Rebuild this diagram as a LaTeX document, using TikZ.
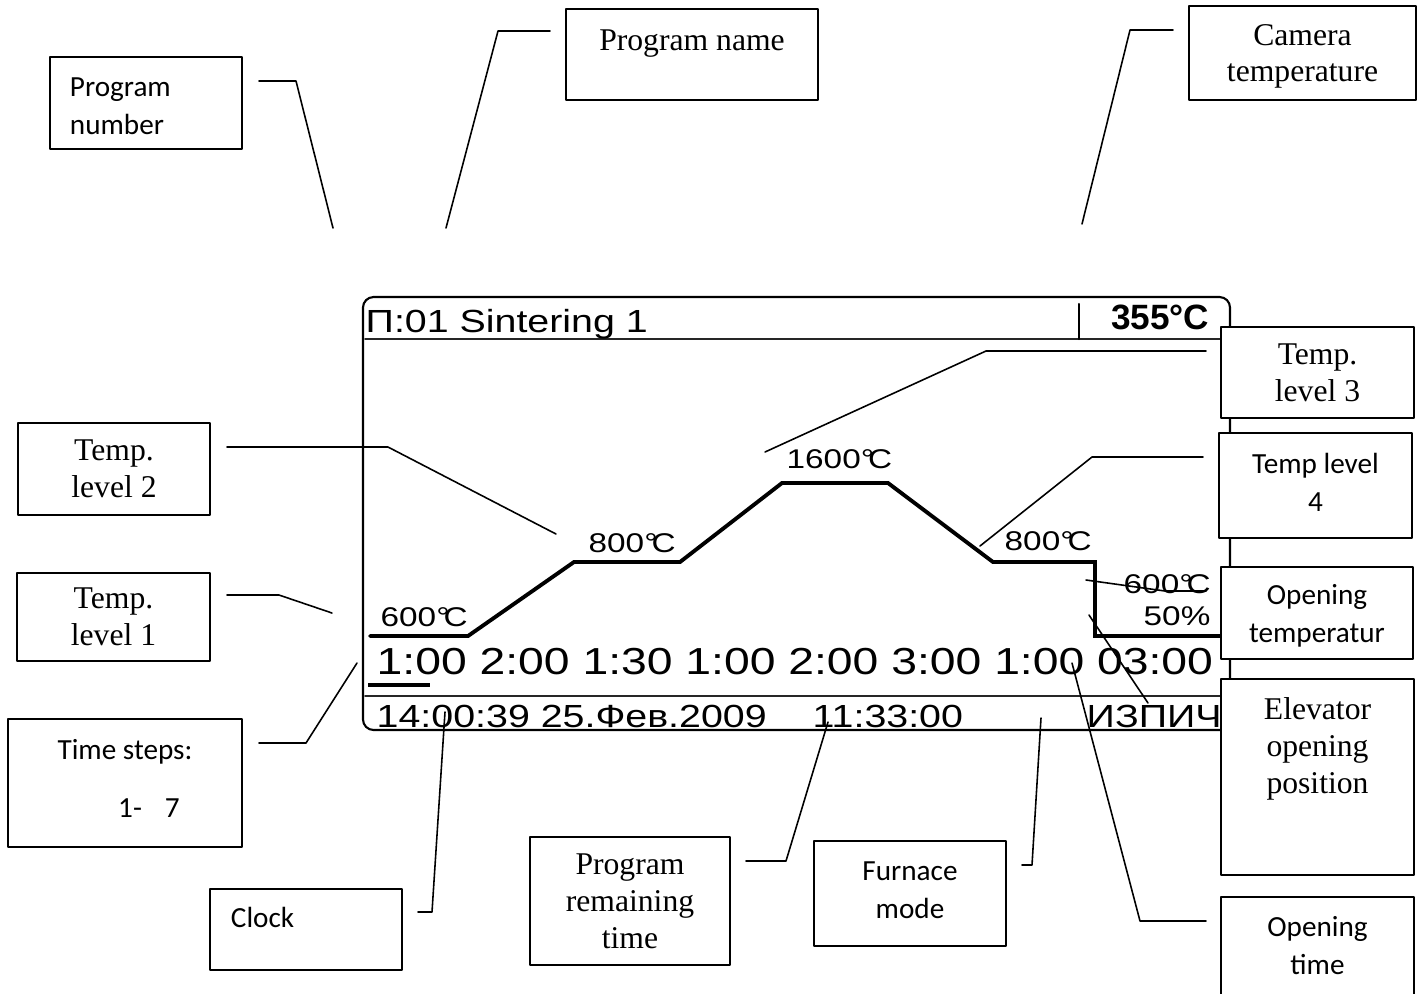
\documentclass[tikz,border=0pt]{standalone}
\usepackage{fontspec}
\setmainfont{Liberation Serif}
\newfontfamily\calib{Carlito}
\newfontfamily\lcd[FakeStretch=1.23]{Liberation Sans}
\newfontfamily\lcdb{Liberation Sans}
\newcommand\boxtop[4]{\parbox[c][#2][t]{#1}{\vspace*{#3}\centering #4}}
\begin{document}
\begin{tikzpicture}[x=0.01cm, y=-0.01cm, line join=round, line cap=round,
	tbox/.style={draw, fill=white, line width=0.6pt, inner sep=0pt, align=center, font=\fontsize{9}{10.5}\selectfont},
	cbox/.style={tbox, font=\calib\fontsize{8.3}{10.8}\selectfont},
	sink/.style={text depth=0pt},
	lift/.style={text depth=#1},
	lead/.style={line width=0.45pt},
	lcdtxt/.style={inner sep=0pt, anchor=base west, font=\lcd\fontsize{#1}{#1}\selectfont}]
	\useasboundingbox (0,0) rectangle (1418,993);
	% display
	\draw[line width=0.6pt, rounded corners=3pt] (363,297) rectangle (1230,730);
	\draw[line width=0.45pt, black!85] (365,339) -- (1228,339) (365,696) -- (1228,696);
	\draw[line width=0.6pt] (1079,304) -- (1079,339);
	\draw[line width=1.2pt, line cap=butt] (368,685) -- (430,685);
	\draw[line width=1.1pt, line join=miter] (370,636) -- (468,636) -- (574,562) -- (680,562) -- (782,483)
		-- (888,483) -- (993,562) -- (1095,562) -- (1095,636) -- (1222,636);
	\node[lcdtxt=9.1] (title) at (365,332) {П:01 Sintering 1};
	\node[anchor=base east, inner sep=0pt, font=\lcdb\bfseries\fontsize{10}{10}\selectfont] (camval) at (1210,329) {355°C};
	\node[lcdtxt=7.7] (tone) at (380,626) {600°\kern-.22em C};
	\node[lcdtxt=7.7] (ttwo) at (588,552) {800°\kern-.22em C};
	\node[lcdtxt=7.7] (tthree) at (786,468) {1600°\kern-.22em C};
	\node[lcdtxt=7.7] (tfour) at (1004,550) {800°\kern-.22em C};
	\node[lcdtxt=7.7] (topen) at (1123,593) {600°\kern-.22em C};
	\node[lcdtxt=7.7] (elevpos) at (1143,625) {50\%};
	\node[lcdtxt=10.7] (times) at (376,674) {1:00 2:00 1:30 1:00 2:00 3:00 1:00 03:00};
	\node[lcdtxt=9.1] (clk) at (376,727) {14:00:39 25.Фев.2009};
	\node[lcdtxt=9.1] (remain) at (812,727) {11:33:00};
	\node[lcdtxt=9.1] (mode) at (1086,727) {ИЗПИЧ.};
	% callout boxes
	\node[cbox, minimum width=1.92cm, minimum height=0.92cm] (pnum) at (146,103) {\boxtop{1.52cm}{0.9cm}{0.2cm}{\raggedright Program\\number}};
	\node[tbox, minimum width=2.52cm, minimum height=0.91cm] (pname) at (692,54.5) {\boxtop{2.5cm}{0.89cm}{0.2cm}{Program name}};
	\node[tbox, sink, minimum width=2.27cm, minimum height=0.94cm] (cam) at (1302.5,53) {Camera\\temperature};
	\node[tbox, sink, minimum width=1.92cm, minimum height=0.92cm] (lvltwo) at (114,469) {Temp.\\level 2};
	\node[tbox, sink, minimum width=1.93cm, minimum height=0.91cm] (lvlthree) at (1317.5,372.5) {Temp.\\level 3};
	\node[cbox, lift=0.07cm, minimum width=1.93cm, minimum height=1.05cm] (lvlfour) at (1315.5,485.5) {Temp level\\4};
	\node[tbox, sink, minimum width=1.93cm, minimum height=0.88cm] (lvlone) at (113.5,617) {Temp.\\level 1};
	\node[cbox, sink, minimum width=1.92cm, minimum height=0.92cm] (opentemp) at (1317,613) {Opening\\temperatur};
	\node[tbox, minimum width=1.93cm, minimum height=1.96cm] (elev) at (1317.5,777) {\boxtop{1.9cm}{1.94cm}{0.18cm}{Elevator\\opening\\position}};
	\node[cbox, lift=0.06cm, minimum width=1.93cm, minimum height=1.03cm] (opentime) at (1317.5,948.5) {Opening\\time};
	\node[cbox, lift=0.1cm, minimum width=2.34cm, minimum height=1.28cm] (tsteps) at (125,783) {Time steps:\\[0.2cm]\hspace*{0.48cm}1-\hspace{0.23cm}7};
	\node[cbox, minimum width=1.92cm, minimum height=0.81cm] (clock) at (306,929.5) {\boxtop{1.5cm}{0.79cm}{0.17cm}{\raggedright Clock}};
	\node[tbox, sink, minimum width=2.00cm, minimum height=1.28cm] (premain) at (630,901) {Program\\remaining\\time};
	\node[cbox, lift=0.06cm, minimum width=1.92cm, minimum height=1.05cm] (fmode) at (910,893.5) {Furnace\\mode};
	% leader lines
	\coordinate (pnum-a) at (259,81);      \coordinate (pnum-t) at (333,228);
	\coordinate (pname-a) at (550,31);     \coordinate (pname-t) at (446,228);
	\coordinate (cam-a) at (1173,30);      \coordinate (cam-t) at (1082,224);
	\coordinate (lvltwo-a) at (227,447);   \coordinate (lvltwo-t) at (556,534);
	\coordinate (lvlthree-a) at (1206,351);\coordinate (lvlthree-t) at (765,452);
	\coordinate (lvlfour-a) at (1203,457); \coordinate (lvlfour-t) at (980,546);
	\coordinate (lvlone-a) at (227,595);   \coordinate (lvlone-t) at (332,613);
	\coordinate (opentemp-a) at (1206,591);\coordinate (opentemp-t) at (1086,580);
	\coordinate (elev-a) at (1148,703);    \coordinate (elev-t) at (1089,615);
	\coordinate (opentime-a) at (1206,921);\coordinate (opentime-t) at (1072,663);
	\coordinate (fmode-a) at (1022,865);   \coordinate (fmode-t) at (1041,718);
	\coordinate (premain-a) at (746,861);  \coordinate (premain-t) at (828,722);
	\coordinate (clock-a) at (418,912);    \coordinate (clock-t) at (445,712);
	\coordinate (tsteps-a) at (259,743);   \coordinate (tsteps-t) at (357,663);
	\draw[lead] (pnum-a) -- ++(37,0) -- (pnum-t);
	\draw[lead] (pname-a) -- ++(-52,0) -- (pname-t);
	\draw[lead] (cam-a) -- ++(-43,0) -- (cam-t);
	\draw[lead] (lvltwo-a) -- ++(161,0) -- (lvltwo-t);
	\draw[lead] (lvlthree-a) -- ++(-220,0) -- (lvlthree-t);
	\draw[lead] (lvlfour-a) -- ++(-111,0) -- (lvlfour-t);
	\draw[lead] (lvlone-a) -- ++(52,0) -- (lvlone-t);
	\draw[lead] (opentemp-a) -- ++(-41,0) -- (opentemp-t);
	\draw[lead] (elev-a) -- (elev-t);
	\draw[lead] (opentime-a) -- ++(-66,0) -- (opentime-t);
	\draw[lead] (fmode-a) -- ++(10,0) -- (fmode-t);
	\draw[lead] (premain-a) -- ++(40,0) -- (premain-t);
	\draw[lead] (clock-a) -- ++(14,0) -- (clock-t);
	\draw[lead] (tsteps-a) -- ++(47,0) -- (tsteps-t);
\end{tikzpicture}
\end{document}
